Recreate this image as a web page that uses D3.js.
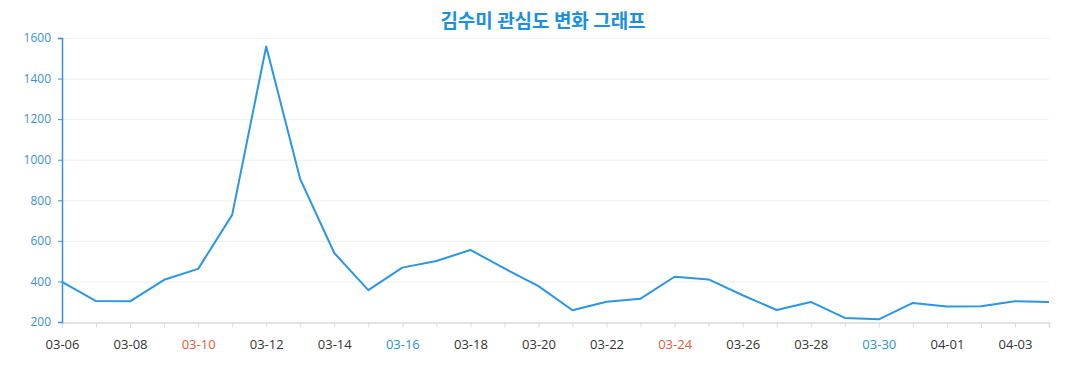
<!DOCTYPE html>
<html><head><meta charset="utf-8">
<script src="https://cdn.jsdelivr.net/npm/d3@7/dist/d3.min.js"></script>
<style>body{margin:0;background:#fff;}svg{display:block;}</style>
</head><body><svg id="c" width="1077" height="390"></svg>
<script>
const title = "김수미 관심도 변화 그래프";
const dates = ["03-06","03-07","03-08","03-09","03-10","03-11","03-12","03-13","03-14","03-15",
"03-16","03-17","03-18","03-19","03-20","03-21","03-22","03-23","03-24","03-25",
"03-26","03-27","03-28","03-29","03-30","03-31","04-01","04-02","04-03","04-04"];
const values = [398,303,302,408,462,728,1558,904,540,357,
468,501,555,464,377,258,300,315,423,410,
332,259,299,220,213,294,276,278,302,299];
const yTicks = [200,400,600,800,1000,1200,1400,1600];
const sundays = ["03-10","03-17","03-24","03-31"];
const saturdays = ["03-09","03-16","03-23","03-30"];
const FONT = "'Open Sans','Noto Sans',sans-serif";

const svg = d3.select("#c");
const m = {l:62, r:1049, t:38, b:322};
const x = d3.scalePoint().domain(dates).range([m.l, m.r]);
const y = d3.scaleLinear().domain([200,1600]).range([m.b, m.t]);

svg.append("text").attr("x",543).attr("y",28).attr("text-anchor","middle")
  .attr("font-family","'Noto Sans CJK KR',sans-serif").attr("font-weight","bold")
  .attr("font-size",19).attr("fill","#1a8fe3").text(title);

// grid
svg.append("g").selectAll("line").data(yTicks.slice(1)).join("line")
  .attr("x1",m.l).attr("x2",m.r).attr("y1",d=>y(d)+0.5).attr("y2",d=>y(d)+0.5)
  .attr("stroke","#eeeeee").attr("stroke-width",1);

// x axis
const xa = svg.append("g").attr("transform",`translate(0,${m.b+0.5})`)
  .call(d3.axisBottom(x).tickSize(5).tickPadding(12)
    .tickFormat((d,i)=> i%2===0 ? d : ""));
xa.attr("font-family",FONT);
xa.select(".domain").attr("stroke","#dcdcdc").attr("stroke-width",1.5);
xa.selectAll(".tick line").attr("stroke","#dcdcdc");
xa.selectAll(".tick text").attr("font-size",13)
  .attr("fill",d=> sundays.includes(d) ? "#e05a3c" : saturdays.includes(d) ? "#2b90cc" : "#333");

// y axis
const ya = svg.append("g").attr("transform",`translate(${m.l},0)`)
  .call(d3.axisLeft(y).tickValues(yTicks).tickFormat(d3.format("d")).tickSize(4).tickPadding(7));
ya.attr("font-family",FONT);
ya.select(".domain").attr("stroke","#3a90d8").attr("stroke-width",1.5);
ya.selectAll(".tick line").attr("stroke","#3a90d8");
ya.selectAll(".tick text").attr("font-size",12).attr("fill","#3a90d0");

// line
svg.append("path").datum(values)
  .attr("fill","none").attr("stroke","#2a96e6").attr("stroke-width",2)
  .attr("stroke-linejoin","round")
  .attr("d", d3.line().x((d,i)=>x(dates[i])).y(d=>y(d)));
</script></body></html>
